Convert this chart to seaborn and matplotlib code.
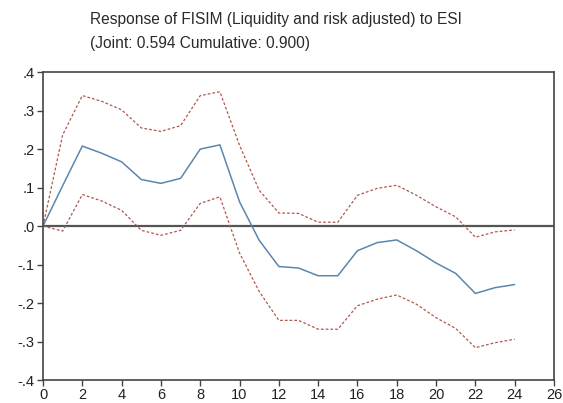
import pandas as pd
import matplotlib
matplotlib.use("Agg")
import matplotlib.pyplot as plt
from matplotlib.ticker import FuncFormatter, MultipleLocator
import seaborn as sns

# Valores (respuesta impulso y bandas)
periods = list(range(0, 25))
response = [0.0, 0.105, 0.208, 0.189, 0.167, 0.121, 0.111, 0.124, 0.200, 0.211,
            0.063, -0.037, -0.105, -0.109, -0.129, -0.129, -0.064, -0.043, -0.036,
            -0.064, -0.096, -0.123, -0.175, -0.160, -0.152]
upper = [0.0, 0.237, 0.339, 0.324, 0.302, 0.255, 0.246, 0.261, 0.339, 0.349,
         0.210, 0.093, 0.034, 0.033, 0.010, 0.010, 0.080, 0.098, 0.106,
         0.080, 0.050, 0.024, -0.029, -0.015, -0.010]
lower = [0.0, -0.013, 0.082, 0.065, 0.041, -0.011, -0.024, -0.011, 0.059, 0.076,
         -0.070, -0.170, -0.245, -0.245, -0.268, -0.268, -0.207, -0.190, -0.179,
         -0.203, -0.238, -0.266, -0.316, -0.303, -0.294]

df = pd.DataFrame({"period": periods, "response": response,
                   "upper": upper, "lower": lower})

sns.set_style("white")
plt.rcParams["font.family"] = ["Liberation Sans", "DejaVu Sans"]

fig = plt.figure(figsize=(5.63, 4.03), dpi=100)
ax = fig.add_axes([0.0764, 0.057, 0.9076, 0.764])

band_color = "#b0584e"
sns.lineplot(data=df, x="period", y="upper", ax=ax, color=band_color,
             linewidth=0.9, dashes=False, linestyle=(0, (2.2, 1.6)))
sns.lineplot(data=df, x="period", y="lower", ax=ax, color=band_color,
             linewidth=0.9, dashes=False, linestyle=(0, (2.2, 1.6)))
sns.lineplot(data=df, x="period", y="response", ax=ax, color="#5b86ad",
             linewidth=1.1)

ax.axhline(0, color="#555555", linewidth=1.6, zorder=0)

ax.set_xlim(0, 26)
ax.set_ylim(-0.4, 0.4)
ax.xaxis.set_major_locator(MultipleLocator(2))
ax.yaxis.set_major_locator(MultipleLocator(0.1))
ax.yaxis.set_major_formatter(
    FuncFormatter(lambda v, p: f"{v:.1f}".replace("0.", ".").replace("-.0", ".0")))
ax.set_xlabel("")
ax.set_ylabel("")

for s in ax.spines.values():
    s.set_color("#444444")
    s.set_linewidth(1.2)

ax.tick_params(axis="both", which="major", direction="out", length=4, width=1,
               color="#444444", labelsize=10.5, labelcolor="#222222",
               bottom=True, left=True, top=False, right=False, pad=2)

fig.text(0.16, 0.97, "Response of FISIM (Liquidity and risk adjusted) to ESI\n"
         "(Joint: 0.594 Cumulative: 0.900)", ha="left", va="top",
         fontsize=11.2, color="#2a2a2a", linespacing=1.75)

plt.savefig("out.png", dpi=100)
